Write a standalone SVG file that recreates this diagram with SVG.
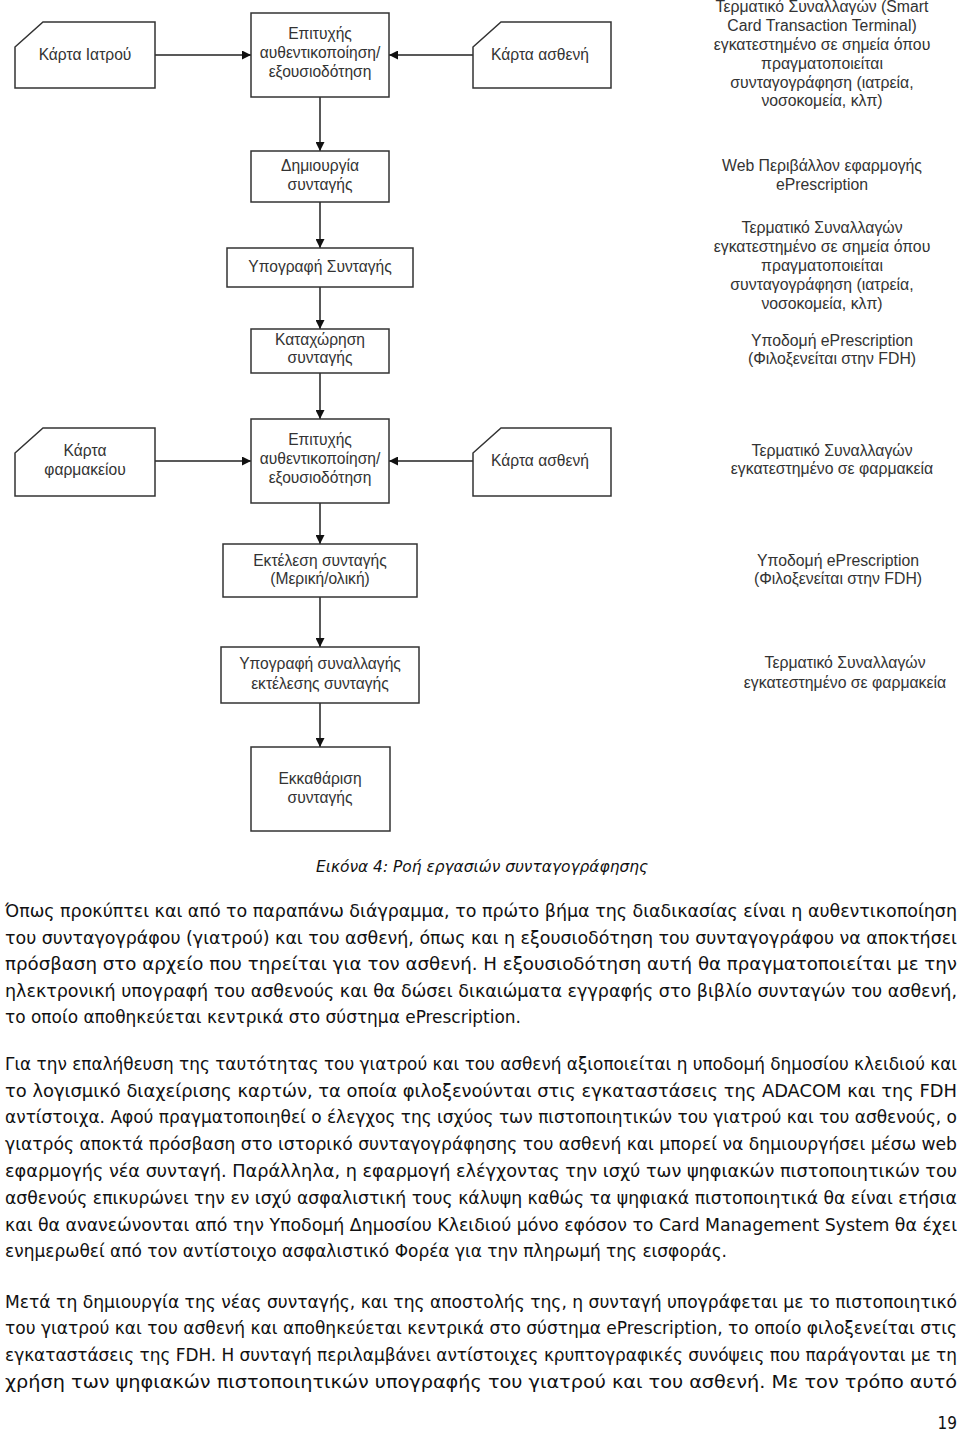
<svg xmlns="http://www.w3.org/2000/svg" width="960" height="1433" viewBox="0 0 960 1433">
<style>
.box{fill:#fff;stroke:#333;stroke-width:1.5}
.bt{font-family:"Liberation Sans",Arial,sans-serif;font-size:15.6px;fill:#333;text-anchor:middle}
.rt{font-family:"Liberation Sans",Arial,sans-serif;font-size:15.8px;fill:#333;text-anchor:middle}
.con{stroke:#222;stroke-width:1.5;fill:none;marker-end:url(#ah)}
.body{font-family:"DejaVu Sans Condensed","DejaVu Sans",sans-serif;font-size:17px;fill:#111}
.cap{font-family:"DejaVu Sans Condensed","DejaVu Sans",sans-serif;font-size:16px;font-style:italic;fill:#111;text-anchor:middle}
</style>
<defs>
<marker id="ah" viewBox="0 0 10 10" refX="10" refY="5" markerWidth="9" markerHeight="9" orient="auto" markerUnits="userSpaceOnUse">
<path d="M0,0 L10,5 L0,10 Z" fill="#111"/>
</marker>
</defs>
<rect width="960" height="1433" fill="#fff"/>
<g id="connectors">
<line class="con" x1="155" y1="55" x2="251" y2="55"/>
<line class="con" x1="473" y1="55" x2="389" y2="55"/>
<line class="con" x1="320" y1="97" x2="320" y2="151"/>
<line class="con" x1="320" y1="202" x2="320" y2="248"/>
<line class="con" x1="320" y1="287" x2="320" y2="329"/>
<line class="con" x1="320" y1="373" x2="320" y2="419"/>
<line class="con" x1="155" y1="461" x2="251" y2="461"/>
<line class="con" x1="473" y1="461" x2="389" y2="461"/>
<line class="con" x1="320" y1="503" x2="320" y2="544"/>
<line class="con" x1="320" y1="597" x2="320" y2="647"/>
<line class="con" x1="320" y1="703" x2="320" y2="747"/>
</g>
<g id="card-iatrou">
<path class="box" d="M15,47 L43,22 L155,22 L155,88 L15,88 Z"/>
<text class="bt" x="85" y="60">Κάρτα Ιατρού</text>
</g>
<g id="auth1">
<rect class="box" x="251" y="13" width="138" height="84"/>
<text class="bt" x="320" y="39">Επιτυχής</text>
<text class="bt" x="320" y="58">αυθεντικοποίηση/</text>
<text class="bt" x="320" y="77">εξουσιοδότηση</text>
</g>
<g id="card-astheni1">
<path class="box" d="M473,47 L501,22 L611,22 L611,88 L473,88 Z"/>
<text class="bt" x="540" y="60">Κάρτα ασθενή</text>
</g>
<g id="dimiourgia">
<rect class="box" x="251" y="151" width="138" height="51"/>
<text class="bt" x="320" y="171">Δημιουργία</text>
<text class="bt" x="320" y="190">συνταγής</text>
</g>
<g id="ypografi">
<rect class="box" x="227" y="248" width="186" height="39"/>
<text class="bt" x="320" y="272">Υπογραφή Συνταγής</text>
</g>
<g id="kataxorisi">
<rect class="box" x="251" y="329" width="138" height="44"/>
<text class="bt" x="320" y="345">Καταχώρηση</text>
<text class="bt" x="320" y="363">συνταγής</text>
</g>
<g id="card-farmakeiou">
<path class="box" d="M15,453 L43,428 L155,428 L155,496 L15,496 Z"/>
<text class="bt" x="85" y="456">Κάρτα</text>
<text class="bt" x="85" y="475">φαρμακείου</text>
</g>
<g id="auth2">
<rect class="box" x="251" y="419" width="138" height="84"/>
<text class="bt" x="320" y="445">Επιτυχής</text>
<text class="bt" x="320" y="464">αυθεντικοποίηση/</text>
<text class="bt" x="320" y="483">εξουσιοδότηση</text>
</g>
<g id="card-astheni2">
<path class="box" d="M473,453 L501,428 L611,428 L611,496 L473,496 Z"/>
<text class="bt" x="540" y="466">Κάρτα ασθενή</text>
</g>
<g id="ektelesi">
<rect class="box" x="223" y="544" width="194" height="53"/>
<text class="bt" x="320" y="566">Εκτέλεση συνταγής</text>
<text class="bt" x="320" y="584">(Μερική/ολική)</text>
</g>
<g id="ypografi-synallagis">
<rect class="box" x="221" y="647" width="198" height="56"/>
<text class="bt" x="320" y="669">Υπογραφή συναλλαγής</text>
<text class="bt" x="320" y="689">εκτέλεσης συνταγής</text>
</g>
<g id="ekkatharisi">
<rect class="box" x="251" y="747" width="139" height="84"/>
<text class="bt" x="320" y="784">Εκκαθάριση</text>
<text class="bt" x="320" y="803">συνταγής</text>
</g>
<g id="right-labels">
<text class="rt" x="822" y="12">Τερματικό Συναλλαγών (Smart</text>
<text class="rt" x="822" y="31">Card Transaction Terminal)</text>
<text class="rt" x="822" y="50">εγκατεστημένο σε σημεία όπου</text>
<text class="rt" x="822" y="69">πραγματοποιείται</text>
<text class="rt" x="822" y="88">συνταγογράφηση (ιατρεία,</text>
<text class="rt" x="822" y="106">νοσοκομεία, κλπ)</text>
<text class="rt" x="822" y="171">Web Περιβάλλον εφαρμογής</text>
<text class="rt" x="822" y="190">ePrescription</text>
<text class="rt" x="822" y="233">Τερματικό Συναλλαγών</text>
<text class="rt" x="822" y="252">εγκατεστημένο σε σημεία όπου</text>
<text class="rt" x="822" y="271">πραγματοποιείται</text>
<text class="rt" x="822" y="290">συνταγογράφηση (ιατρεία,</text>
<text class="rt" x="822" y="309">νοσοκομεία, κλπ)</text>
<text class="rt" x="832" y="346">Υποδομή ePrescription</text>
<text class="rt" x="832" y="364">(Φιλοξενείται στην FDH)</text>
<text class="rt" x="832" y="456">Τερματικό Συναλλαγών</text>
<text class="rt" x="832" y="474">εγκατεστημένο σε φαρμακεία</text>
<text class="rt" x="838" y="566">Υποδομή ePrescription</text>
<text class="rt" x="838" y="584">(Φιλοξενείται στην FDH)</text>
<text class="rt" x="845" y="668">Τερματικό Συναλλαγών</text>
<text class="rt" x="845" y="688">εγκατεστημένο σε φαρμακεία</text>
</g>
<g id="caption">
<text class="cap" x="482" y="872" textLength="332" lengthAdjust="spacingAndGlyphs">Εικόνα 4: Ροή εργασιών συνταγογράφησης</text>
</g>
<g id="body-text">
<text class="body" x="5" y="917" textLength="952" lengthAdjust="spacingAndGlyphs">Όπως προκύπτει και από το  παραπάνω διάγραμμα, το πρώτο βήμα της διαδικασίας είναι η αυθεντικοποίηση</text>
<text class="body" x="5" y="944" textLength="952" lengthAdjust="spacingAndGlyphs">του συνταγογράφου (γιατρού) και του ασθενή, όπως και η εξουσιοδότηση του συνταγογράφου να αποκτήσει</text>
<text class="body" x="5" y="970" textLength="952" lengthAdjust="spacingAndGlyphs">πρόσβαση στο αρχείο που τηρείται για τον ασθενή. Η εξουσιοδότηση αυτή θα πραγματοποιείται με την</text>
<text class="body" x="5" y="997" textLength="952" lengthAdjust="spacingAndGlyphs">ηλεκτρονική υπογραφή του ασθενούς  και θα δώσει δικαιώματα εγγραφής στο βιβλίο συνταγών του ασθενή,</text>
<text class="body" x="5" y="1023" textLength="516" lengthAdjust="spacingAndGlyphs">το οποίο αποθηκεύεται κεντρικά στο σύστημα ePrescription.</text>
<text class="body" x="5" y="1070" textLength="952" lengthAdjust="spacingAndGlyphs">Για την επαλήθευση της ταυτότητας του γιατρού και του ασθενή αξιοποιείται η υποδομή δημοσίου κλειδιού και</text>
<text class="body" x="5" y="1097" textLength="952" lengthAdjust="spacingAndGlyphs">το λογισμικό διαχείρισης καρτών, τα οποία φιλοξενούνται στις εγκαταστάσεις της ADACOM και της FDH</text>
<text class="body" x="5" y="1123" textLength="952" lengthAdjust="spacingAndGlyphs">αντίστοιχα. Αφού πραγματοποιηθεί ο έλεγχος της ισχύος των πιστοποιητικών του γιατρού και του ασθενούς, ο</text>
<text class="body" x="5" y="1150" textLength="952" lengthAdjust="spacingAndGlyphs">γιατρός αποκτά πρόσβαση στο ιστορικό συνταγογράφησης του ασθενή και μπορεί να δημιουργήσει μέσω web</text>
<text class="body" x="5" y="1177" textLength="952" lengthAdjust="spacingAndGlyphs">εφαρμογής νέα συνταγή. Παράλληλα, η εφαρμογή ελέγχοντας την ισχύ των ψηφιακών πιστοποιητικών του</text>
<text class="body" x="5" y="1204" textLength="952" lengthAdjust="spacingAndGlyphs">ασθενούς επικυρώνει την εν ισχύ ασφαλιστική τους κάλυψη καθώς τα ψηφιακά πιστοποιητικά θα είναι ετήσια</text>
<text class="body" x="5" y="1231" textLength="952" lengthAdjust="spacingAndGlyphs">και θα ανανεώνονται από την Υποδομή Δημοσίου Κλειδιού μόνο εφόσον το Card Management System θα έχει</text>
<text class="body" x="5" y="1257" textLength="722" lengthAdjust="spacingAndGlyphs">ενημερωθεί από τον αντίστοιχο ασφαλιστικό Φορέα για την πληρωμή της εισφοράς.</text>
<text class="body" x="5" y="1308" textLength="952" lengthAdjust="spacingAndGlyphs">Μετά τη δημιουργία της νέας συνταγής, και της αποστολής της, η συνταγή υπογράφεται με το πιστοποιητικό</text>
<text class="body" x="5" y="1334" textLength="952" lengthAdjust="spacingAndGlyphs">του γιατρού και του ασθενή και αποθηκεύεται κεντρικά στο σύστημα ePrescription, το οποίο φιλοξενείται στις</text>
<text class="body" x="5" y="1361" textLength="952" lengthAdjust="spacingAndGlyphs">εγκαταστάσεις της FDH. Η συνταγή περιλαμβάνει αντίστοιχες κρυπτογραφικές συνόψεις που παράγονται με τη</text>
<text class="body" x="5" y="1388" textLength="952" lengthAdjust="spacingAndGlyphs">χρήση των ψηφιακών πιστοποιητικών υπογραφής του γιατρού και του ασθενή. Με τον τρόπο αυτό</text>
<text class="body" x="957" y="1429" text-anchor="end">19</text>
</g>
</svg>
